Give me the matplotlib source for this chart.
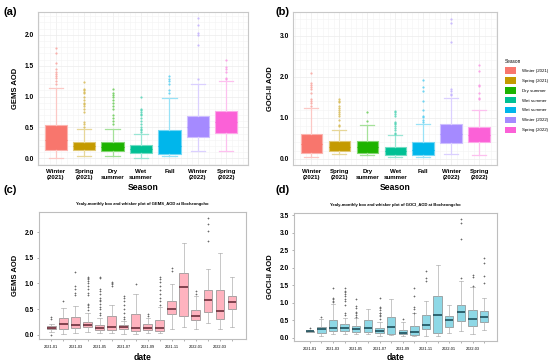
import matplotlib
matplotlib.use("Agg")
import matplotlib.pyplot as plt
import matplotlib.colors as mcolors
from matplotlib.patches import Patch

plt.rcParams['font.family'] = ['Liberation Sans', 'DejaVu Sans']

# ---------------- data ----------------
season_labels = ["Winter\n(2021)", "Spring\n(2021)", "Dry\nsummer", "Wet\nsummer", "Fall",
                 "Winter\n(2022)", "Spring\n(2022)"]
legend_labels = ["Winter (2021)", "Spring (2021)", "Dry summer", "Wet summer", "Wet summer",
                 "Winter (2022)", "Spring (2022)"]
season_colors = ["#F8766D", "#C49A00", "#1DB300", "#00C094", "#00B6EB", "#A58AFF", "#FB61D7"]

# (a) GEMS AOD by season
gems_s_q1 = [0.14, 0.14, 0.11, 0.08, 0.07, 0.34, 0.41]
gems_s_med = [0.30, 0.20, 0.18, 0.15, 0.20, 0.50, 0.58]
gems_s_q3 = [0.54, 0.27, 0.255, 0.22, 0.45, 0.68, 0.76]
gems_s_lo = [0.00, 0.04, 0.03, 0.00, 0.03, 0.12, 0.11]
gems_s_hi = [1.14, 0.47, 0.48, 0.39, 0.98, 1.20, 1.25]
gems_s_fl = [
    [1.20, 1.25, 1.30, 1.33, 1.36, 1.40, 1.45, 1.55, 1.70, 1.78],
    [0.50, 0.55, 0.58, 0.75, 0.80, 0.85, 0.88, 0.90, 0.95, 1.00, 1.05, 1.08, 1.10, 1.12, 1.24],
    [0.55, 0.60, 0.65, 0.70, 0.80, 0.85, 0.90, 0.95, 1.00, 1.02, 1.05, 1.13],
    [0.42, 0.45, 0.48, 0.50, 0.55, 0.60, 0.65, 0.70, 0.72, 0.75, 0.78, 0.80, 0.99],
    [1.05, 1.10, 1.20, 1.25, 1.28, 1.33],
    [1.28, 1.83, 2.00, 2.03, 2.16, 2.27],
    [1.28, 1.30, 1.40, 1.45, 1.48, 1.60],
]

# (b) GOCI-II AOD by season
goci_s_q1 = [0.15, 0.20, 0.15, 0.10, 0.09, 0.38, 0.40]
goci_s_med = [0.35, 0.30, 0.28, 0.20, 0.22, 0.60, 0.58]
goci_s_q3 = [0.60, 0.43, 0.43, 0.30, 0.41, 0.84, 0.78]
goci_s_lo = [0.05, 0.11, 0.09, 0.04, 0.04, 0.13, 0.09]
goci_s_hi = [1.24, 0.70, 0.82, 0.58, 0.86, 1.49, 1.20]
goci_s_fl = [
    [1.30, 1.35, 1.40, 1.45, 1.60, 1.70, 1.75, 1.80, 1.85, 2.10],
    [0.80, 0.82, 0.95, 1.05, 1.10, 1.15, 1.20, 1.25, 1.30, 1.38, 1.42, 1.45],
    [0.93, 1.13],
    [0.60, 0.62, 0.70, 0.75, 0.80, 0.85, 0.88, 0.90, 1.05, 1.10, 1.13, 1.16],
    [0.90, 0.95, 1.02, 1.05, 1.20, 1.42, 1.65, 1.75, 1.92],
    [1.55, 1.58, 1.65, 1.70, 2.85, 3.30, 3.42],
    [1.45, 1.48, 1.60, 1.78, 1.80, 2.15, 2.28],
]

months = ["2021-01", "2021-02", "2021-03", "2021-04", "2021-05", "2021-06", "2021-07", "2021-08",
          "2021-09", "2021-10", "2021-11", "2021-12", "2022-01", "2022-02", "2022-03", "2022-04"]

# (c) GEMS AOD monthly
gems_m_q1 = [0.11, 0.12, 0.13, 0.15, 0.10, 0.10, 0.11, 0.08, 0.09, 0.07, 0.40, 0.37, 0.29, 0.44, 0.31, 0.50]
gems_m_med = [0.14, 0.22, 0.20, 0.20, 0.14, 0.15, 0.16, 0.14, 0.14, 0.13, 0.50, 0.93, 0.37, 0.68, 0.47, 0.63]
gems_m_q3 = [0.17, 0.32, 0.34, 0.26, 0.20, 0.37, 0.20, 0.41, 0.22, 0.28, 0.66, 1.20, 0.48, 0.87, 0.88, 0.76]
gems_m_lo = [0.05, 0.02, 0.04, 0.06, 0.03, 0.04, 0.02, 0.02, 0.03, 0.03, 0.12, 0.15, 0.12, 0.23, 0.12, 0.15]
gems_m_hi = [0.22, 0.52, 0.57, 0.42, 0.33, 0.58, 0.27, 0.80, 0.32, 0.55, 0.98, 1.78, 0.75, 1.29, 1.60, 1.12]
gems_m_fl = [
    [0.00, 0.30, 0.35],
    [0.66],
    [0.78, 0.82, 0.90, 0.95, 1.22],
    [0.48, 0.55, 0.58, 0.60, 0.78, 0.82, 0.90, 0.95, 1.00, 1.05, 1.08, 1.10, 1.12],
    [0.38, 0.42, 0.50, 0.55, 0.60, 0.65, 0.68, 0.72, 0.80, 0.85, 0.90, 1.10, 1.12],
    [0.95, 0.98, 1.00, 1.02],
    [0.30, 0.35, 0.42, 0.50, 0.58, 0.65, 0.72, 0.76],
    [0.98],
    [0.37, 0.40],
    [0.58, 0.65, 0.72, 0.80, 0.88, 0.95, 1.02, 1.08, 1.12],
    [1.25, 1.30],
    [],
    [0.80, 0.86],
    [1.82, 2.03, 2.15, 2.27],
    [],
    [],
]

# (d) GOCI-II AOD monthly
goci_m_q1 = [0.18, 0.15, 0.20, 0.20, 0.16, 0.17, 0.15, 0.12, 0.10, 0.08, 0.24, 0.15, 0.31, 0.47, 0.34, 0.45]
goci_m_med = [0.19, 0.25, 0.29, 0.27, 0.24, 0.29, 0.21, 0.32, 0.15, 0.16, 0.38, 0.64, 0.50, 0.74, 0.54, 0.61]
goci_m_q3 = [0.20, 0.30, 0.52, 0.39, 0.33, 0.50, 0.29, 0.60, 0.22, 0.33, 0.66, 1.20, 0.62, 0.95, 0.80, 0.77]
goci_m_lo = [0.17, 0.04, 0.12, 0.12, 0.10, 0.10, 0.05, 0.08, 0.04, 0.04, 0.04, 0.04, 0.15, 0.20, 0.10, 0.22]
goci_m_hi = [0.22, 0.55, 0.98, 0.58, 0.57, 0.82, 0.45, 1.12, 0.44, 0.70, 1.06, 2.08, 0.95, 1.62, 1.46, 1.14]
goci_m_fl = [
    [0.27],
    [0.60],
    [1.02, 1.05, 1.10, 1.15, 1.42],
    [0.65, 0.70, 0.95, 1.05, 1.10, 1.20, 1.25, 1.30, 1.35, 1.42],
    [0.60, 0.65, 0.70, 0.75, 0.85, 0.92, 1.12],
    [],
    [0.55, 0.62, 0.65, 0.70, 0.72, 0.80, 0.85, 0.88, 1.14],
    [],
    [0.55],
    [0.72, 0.82, 0.88, 1.20, 1.42],
    [1.62, 1.72, 1.90],
    [],
    [],
    [1.70, 2.82, 3.28, 3.40],
    [1.48, 1.75, 1.80],
    [1.58, 1.78, 2.15, 2.28],
]

# ---------------- helpers ----------------
W, H = 550, 362
fig = plt.figure(figsize=(5.5, 3.62), dpi=100)


def ax_px(x0, y0, x1, y1):
    return fig.add_axes([x0 / W, 1 - y1 / H, (x1 - x0) / W, (y1 - y0) / H])


def stats(q1, med, q3, lo, hi, fl):
    return [dict(q1=a, med=b, q3=c, whislo=d, whishi=e, fliers=f)
            for a, b, c, d, e, f in zip(q1, med, q3, lo, hi, fl)]


def lighten(c, amt):
    r, g, b = mcolors.to_rgb(c)
    return (r + (1 - r) * amt, g + (1 - g) * amt, b + (1 - b) * amt)


def season_panel(ax, st):
    for i, (s, c) in enumerate(zip(st, season_colors)):
        light = lighten(c, 0.6)
        ax.bxp([s], positions=[i], widths=0.78, patch_artist=True,
               boxprops=dict(facecolor=c, edgecolor=lighten(c, 0.45), linewidth=0.8),
               medianprops=dict(color=c, linewidth=0.8),
               whiskerprops=dict(color=light, linewidth=0.9),
               capprops=dict(color=light, linewidth=0.9),
               capwidths=0.5,
               flierprops=dict(marker='o', markersize=1.6, markerfacecolor=lighten(c, 0.3),
                               markeredgecolor='none', alpha=0.8))
    ax.set_xticks(range(len(season_labels)))
    ax.set_xticklabels(season_labels, fontsize=4.4, fontweight='bold', linespacing=1.15)
    ax.tick_params(axis='both', length=0, pad=3)
    ax.set_axisbelow(True)
    ax.grid(True, which='major', color='#ececec', linewidth=0.5)
    ax.minorticks_on()
    ax.tick_params(axis='x', which='minor', bottom=False)
    ax.tick_params(axis='y', which='minor', left=False)
    ax.grid(True, which='minor', color='#f4f4f4', linewidth=0.4)
    for sp in ax.spines.values():
        sp.set_color('#c8c8c8')
        sp.set_linewidth(0.8)


def monthly_panel(ax, st, face, medc):
    ax.bxp(st, positions=range(len(st)), widths=0.72, patch_artist=True,
           boxprops=dict(facecolor=face, edgecolor='#8a8a8a', linewidth=0.5),
           medianprops=dict(color=medc, linewidth=1.2),
           whiskerprops=dict(color='#b0b0b0', linewidth=0.5),
           capprops=dict(color='#b0b0b0', linewidth=0.5),
           capwidths=0.36,
           flierprops=dict(marker='+', markersize=1.8, markeredgecolor='#6a6a6a',
                           markeredgewidth=0.5))
    ax.set_xticks(range(len(months)))
    ax.set_xticklabels([m if i % 2 == 0 else "" for i, m in enumerate(months)], fontsize=2.8)
    ax.tick_params(axis='x', length=1.5, width=0.4, color='#777777', pad=2.5)
    ax.tick_params(axis='y', length=1.5, width=0.4, color='#777777', pad=2)
    for sp in ax.spines.values():
        sp.set_color('#bdbdbd')
        sp.set_linewidth(0.8)


# ---------------- (a) ----------------
axa = ax_px(38, 12, 248, 165)
season_panel(axa, stats(gems_s_q1, gems_s_med, gems_s_q3, gems_s_lo, gems_s_hi, gems_s_fl))
axa.set_xlim(-0.62, 6.76)
axa.set_ylim(-0.11, 2.37)
axa.set_yticks([0.0, 0.5, 1.0, 1.5, 2.0])
axa.set_yticklabels(["0.0", "0.5", "1.0", "1.5", "2.0"], fontsize=4.8, fontweight='bold')
axa.set_ylabel("GEMS AOD", fontsize=5.5, fontweight='bold', labelpad=4)
axa.set_xlabel("Season", fontsize=6.2, fontweight='bold', labelpad=2)

# ---------------- (b) ----------------
axb = ax_px(293, 12, 497, 165)
season_panel(axb, stats(goci_s_q1, goci_s_med, goci_s_q3, goci_s_lo, goci_s_hi, goci_s_fl))
axb.set_xlim(-0.66, 6.63)
axb.set_ylim(-0.15, 3.58)
axb.set_yticks([0.0, 1.0, 2.0, 3.0])
axb.set_yticklabels(["0.0", "1.0", "2.0", "3.0"], fontsize=4.8, fontweight='bold')
axb.set_ylabel("GOCI-II AOD", fontsize=5.5, fontweight='bold', labelpad=4)
axb.set_xlabel("Season", fontsize=6.2, fontweight='bold', labelpad=2)

handles = [Patch(facecolor=c, edgecolor='none') for c in season_colors]
leg = fig.legend(handles, legend_labels, title="Season", loc='upper left',
                 bbox_to_anchor=(503 / W, 1 - 57 / H), frameon=False,
                 fontsize=3.2, title_fontsize=3.4, handlelength=2.6, handleheight=1.9,
                 labelspacing=0.75, handletextpad=1.2, alignment='left', borderaxespad=0)

# ---------------- (c) ----------------
axc = ax_px(39, 212, 246, 339)
monthly_panel(axc, stats(gems_m_q1, gems_m_med, gems_m_q3, gems_m_lo, gems_m_hi, gems_m_fl),
              '#FFB3BF', '#6B2E3A')
axc.set_xlim(-1.03, 16.17)
axc.set_ylim(-0.08, 2.39)
axc.set_yticks([0.0, 0.5, 1.0, 1.5, 2.0])
axc.set_yticklabels(["0.0", "0.5", "1.0", "1.5", "2.0"], fontsize=4.8, fontweight='bold')
axc.set_ylabel("GEMS AOD", fontsize=5.5, fontweight='bold', labelpad=4)
axc.set_xlabel("date", fontsize=6.2, fontweight='bold', labelpad=3)
axc.set_title("Yealy-monthly box and whisker plot of GEMS_AOD at Bocheongcho",
              fontsize=3.0, fontweight='bold', pad=5)

# ---------------- (d) ----------------
axd = ax_px(294, 213, 497, 341)
monthly_panel(axd, stats(goci_m_q1, goci_m_med, goci_m_q3, goci_m_lo, goci_m_hi, goci_m_fl),
              '#8ED8E6', '#1E4F5A')
axd.set_xlim(-1.35, 16.1)
axd.set_ylim(-0.09, 3.57)
axd.set_yticks([0.0, 0.5, 1.0, 1.5, 2.0, 2.5, 3.0, 3.5])
axd.set_yticklabels(["0.0", "0.5", "1.0", "1.5", "2.0", "2.5", "3.0", "3.5"],
                    fontsize=4.8, fontweight='bold')
axd.set_ylabel("GOCI-II AOD", fontsize=5.5, fontweight='bold', labelpad=4)
axd.set_xlabel("date", fontsize=6.2, fontweight='bold', labelpad=2)
axd.set_title("Yealy-monthly box and whisker plot of GOCI_AOD at Bocheongcho",
              fontsize=3.0, fontweight='bold', pad=5)

# panel letters
for txt, x, y in [("(a)", 3, 12), ("(b)", 276, 12), ("(c)", 3, 190), ("(d)", 276, 190)]:
    fig.text(x / W, 1 - y / H, txt, fontsize=8, fontweight='bold', va='center', ha='left')

fig.savefig("out.png", dpi=100)
